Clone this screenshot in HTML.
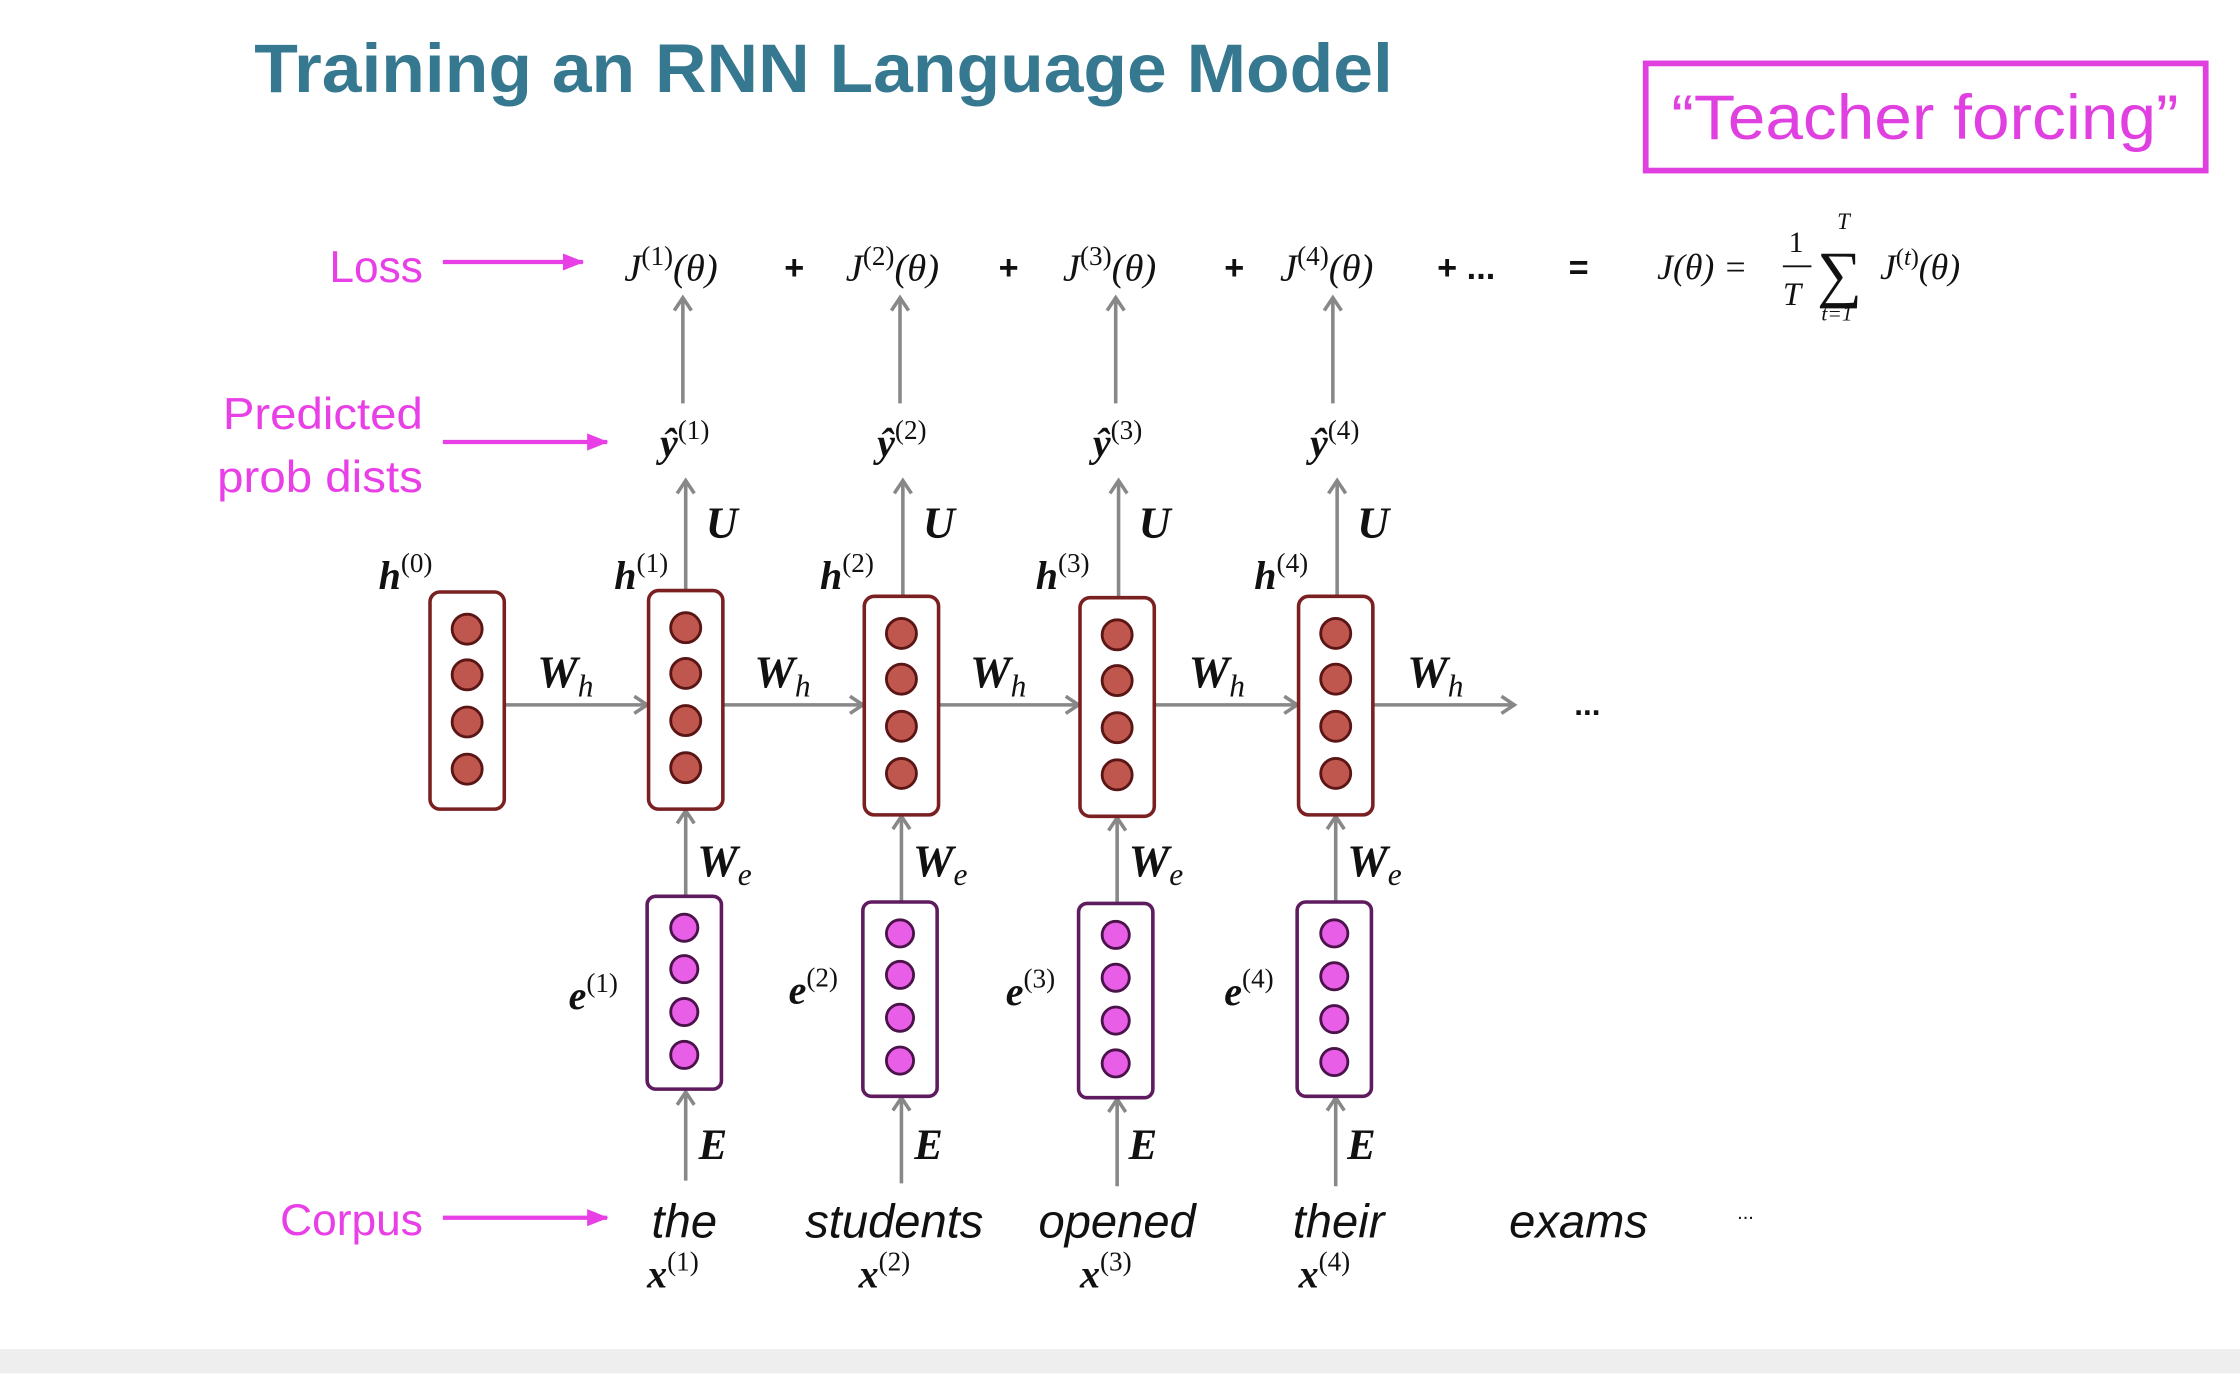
<!DOCTYPE html>
<html><head><meta charset="utf-8"><style>
html,body{margin:0;padding:0;background:#fff;}
svg{display:block;}
.m{font-family:"Liberation Serif",serif;font-style:italic;fill:#111;}
.mb{font-family:"Liberation Serif",serif;font-style:italic;font-weight:bold;fill:#111;}
.sup{font-family:"Liberation Serif",serif;font-style:normal;font-weight:normal;fill:#111;}
.pk{font-family:"Liberation Sans",sans-serif;fill:#e83fe6;font-size:31px;}
.w{font-family:"Liberation Sans",sans-serif;font-style:italic;font-size:33px;fill:#111;}
</style></head><body>
<svg width="2240" height="1374" viewBox="0 0 1568 961" xmlns="http://www.w3.org/2000/svg">
<defs>
<marker id="ag" markerWidth="14" markerHeight="14" refX="11" refY="7" orient="auto" markerUnits="userSpaceOnUse"><path d="M2,1 L11,7 L2,13" fill="none" stroke="#888" stroke-width="2.5"/></marker>
<marker id="ap" markerWidth="16" markerHeight="14" refX="14" refY="7" orient="auto" markerUnits="userSpaceOnUse"><path d="M0,1 L15,7 L0,13 Z" fill="#e83fe6"/></marker>
</defs>
<rect x="0" y="944" width="1568" height="17" fill="#eeeeee"/>
<text x="178" y="64" textLength="797" lengthAdjust="spacingAndGlyphs" font-family="Liberation Sans,sans-serif" font-weight="bold" font-size="48" fill="#357890">Training an RNN Language Model</text>
<rect x="1152" y="44" width="392" height="75" fill="none" stroke="#e040e0" stroke-width="4"/>
<text x="1170" y="97" textLength="355" lengthAdjust="spacingAndGlyphs" font-family="Liberation Sans,sans-serif" font-size="44" fill="#e040e0">“Teacher forcing”</text>

<text class="pk" x="296" y="197" text-anchor="end">Loss</text>
<text class="pk" x="156" y="300" textLength="140" lengthAdjust="spacingAndGlyphs">Predicted</text>
<text class="pk" x="152" y="344" textLength="144" lengthAdjust="spacingAndGlyphs">prob dists</text>
<text class="pk" x="296" y="864" text-anchor="end">Corpus</text>
<g stroke="#e83fe6" stroke-width="3" marker-end="url(#ap)">
<line x1="310" y1="183" x2="408" y2="183"/>
<line x1="310" y1="309" x2="425" y2="309"/>
<line x1="310" y1="852" x2="425" y2="852"/>
</g>

<g font-size="27">
<text class="m" x="437" y="196">J<tspan class="sup" font-size="19" dy="-11">(1)</tspan><tspan dy="11">(θ)</tspan></text>
<text class="m" x="592" y="196">J<tspan class="sup" font-size="19" dy="-11">(2)</tspan><tspan dy="11">(θ)</tspan></text>
<text class="m" x="744" y="196">J<tspan class="sup" font-size="19" dy="-11">(3)</tspan><tspan dy="11">(θ)</tspan></text>
<text class="m" x="896" y="196">J<tspan class="sup" font-size="19" dy="-11">(4)</tspan><tspan dy="11">(θ)</tspan></text>
</g>
<g font-family="Liberation Sans,sans-serif" font-size="24" font-weight="bold" fill="#111">
<text x="549" y="195">+</text><text x="699" y="195">+</text><text x="857" y="195">+</text>
<text x="1006" y="195">+ ...</text><text x="1098" y="195">=</text>
</g>
<text class="m" x="1160" y="195" font-size="25">J(θ) =</text>
<text class="sup" x="1252" y="176" font-size="21">1</text>
<line x1="1248" y1="186" x2="1268" y2="186" stroke="#111" stroke-width="1.3"/>
<text class="m" x="1248" y="213" font-size="23">T</text>
<text class="sup" x="1272" y="206" font-size="44">∑</text>
<text class="m" x="1286" y="160" font-size="16">T</text>
<text class="m" x="1275" y="224" font-size="15">t=1</text>
<text class="m" x="1316" y="195" font-size="25">J<tspan class="sup" font-size="17" dy="-10">(</tspan><tspan font-size="17" font-style="italic">t</tspan><tspan class="sup" font-size="17">)</tspan><tspan dy="10">(θ)</tspan></text>

<g stroke="#888" stroke-width="2.5" fill="none" marker-end="url(#ag)">
<line x1="478" y1="282" x2="478" y2="208"/><line x1="630" y1="282" x2="630" y2="208"/>
<line x1="781" y1="282" x2="781" y2="208"/><line x1="933" y1="282" x2="933" y2="208"/>
<line x1="480" y1="412" x2="480" y2="336"/><line x1="632" y1="416" x2="632" y2="336"/>
<line x1="783" y1="417" x2="783" y2="336"/><line x1="936" y1="416" x2="936" y2="336"/>
<line x1="353" y1="493" x2="453" y2="493"/><line x1="506" y1="493" x2="604" y2="493"/>
<line x1="657" y1="493" x2="755" y2="493"/><line x1="808" y1="493" x2="908" y2="493"/>
<line x1="961" y1="493" x2="1060" y2="493"/>
<line x1="480" y1="626" x2="480" y2="567"/><line x1="631" y1="630" x2="631" y2="571"/>
<line x1="782" y1="631" x2="782" y2="572"/><line x1="935" y1="630" x2="935" y2="571"/>
<line x1="480" y1="826" x2="480" y2="764"/><line x1="631" y1="828" x2="631" y2="768"/>
<line x1="782" y1="830" x2="782" y2="769"/><line x1="935" y1="830" x2="935" y2="768"/>
</g>

<g font-size="28">
<text class="mb" x="462" y="319">ŷ<tspan class="sup" font-size="19" dy="-12">(1)</tspan></text>
<text class="mb" x="614" y="319">ŷ<tspan class="sup" font-size="19" dy="-12">(2)</tspan></text>
<text class="mb" x="765" y="319">ŷ<tspan class="sup" font-size="19" dy="-12">(3)</tspan></text>
<text class="mb" x="917" y="319">ŷ<tspan class="sup" font-size="19" dy="-12">(4)</tspan></text>
<text class="mb" x="494" y="376" font-size="31">U</text><text class="mb" x="646" y="376" font-size="31">U</text>
<text class="mb" x="797" y="376" font-size="31">U</text><text class="mb" x="950" y="376" font-size="31">U</text>
<text class="mb" x="265" y="412">h<tspan class="sup" font-size="19" dy="-12">(0)</tspan></text>
<text class="mb" x="430" y="412">h<tspan class="sup" font-size="19" dy="-12">(1)</tspan></text>
<text class="mb" x="574" y="412">h<tspan class="sup" font-size="19" dy="-12">(2)</tspan></text>
<text class="mb" x="725" y="412">h<tspan class="sup" font-size="19" dy="-12">(3)</tspan></text>
<text class="mb" x="878" y="412">h<tspan class="sup" font-size="19" dy="-12">(4)</tspan></text>
</g>
<g font-size="32">
<text class="mb" x="376" y="481">W<tspan class="m" font-weight="normal" font-size="22" dy="6">h</tspan></text>
<text class="mb" x="528" y="481">W<tspan class="m" font-weight="normal" font-size="22" dy="6">h</tspan></text>
<text class="mb" x="679" y="481">W<tspan class="m" font-weight="normal" font-size="22" dy="6">h</tspan></text>
<text class="mb" x="832" y="481">W<tspan class="m" font-weight="normal" font-size="22" dy="6">h</tspan></text>
<text class="mb" x="985" y="481">W<tspan class="m" font-weight="normal" font-size="22" dy="6">h</tspan></text>
<text class="mb" x="488" y="613">W<tspan class="m" font-weight="normal" font-size="22" dy="6">e</tspan></text>
<text class="mb" x="639" y="613">W<tspan class="m" font-weight="normal" font-size="22" dy="6">e</tspan></text>
<text class="mb" x="790" y="613">W<tspan class="m" font-weight="normal" font-size="22" dy="6">e</tspan></text>
<text class="mb" x="943" y="613">W<tspan class="m" font-weight="normal" font-size="22" dy="6">e</tspan></text>
<text class="mb" x="489" y="811" font-size="30">E</text><text class="mb" x="640" y="811" font-size="30">E</text>
<text class="mb" x="790" y="811" font-size="30">E</text><text class="mb" x="943" y="811" font-size="30">E</text>
</g>
<text x="1102" y="500" font-family="Liberation Sans,sans-serif" font-size="22" font-weight="bold" fill="#111">...</text>

<g stroke="#7b2020" stroke-width="2.5" fill="#fff">
<rect x="301" y="414" width="52" height="152" rx="7"/>
<rect x="454" y="413" width="52" height="153" rx="7"/>
<rect x="605" y="417" width="52" height="153" rx="7"/>
<rect x="756" y="418" width="52" height="153" rx="7"/>
<rect x="909" y="417" width="52" height="153" rx="7"/>
</g>
<g fill="#c0574f" stroke="#5a1515" stroke-width="2">
<circle cx="327" cy="440" r="10.5"/><circle cx="327" cy="472" r="10.5"/><circle cx="327" cy="505" r="10.5"/><circle cx="327" cy="538" r="10.5"/>
<circle cx="480" cy="439" r="10.5"/><circle cx="480" cy="471" r="10.5"/><circle cx="480" cy="504" r="10.5"/><circle cx="480" cy="537" r="10.5"/>
<circle cx="631" cy="443" r="10.5"/><circle cx="631" cy="475" r="10.5"/><circle cx="631" cy="508" r="10.5"/><circle cx="631" cy="541" r="10.5"/>
<circle cx="782" cy="444" r="10.5"/><circle cx="782" cy="476" r="10.5"/><circle cx="782" cy="509" r="10.5"/><circle cx="782" cy="542" r="10.5"/>
<circle cx="935" cy="443" r="10.5"/><circle cx="935" cy="475" r="10.5"/><circle cx="935" cy="508" r="10.5"/><circle cx="935" cy="541" r="10.5"/>
</g>

<g stroke="#5e1b5e" stroke-width="2.5" fill="#fff">
<rect x="453" y="627" width="52" height="135" rx="6"/>
<rect x="604" y="631" width="52" height="136" rx="6"/>
<rect x="755" y="632" width="52" height="136" rx="6"/>
<rect x="908" y="631" width="52" height="136" rx="6"/>
</g>
<g fill="#e95ee6" stroke="#4a144a" stroke-width="2">
<circle cx="479" cy="649" r="9.5"/><circle cx="479" cy="678" r="9.5"/><circle cx="479" cy="708" r="9.5"/><circle cx="479" cy="738" r="9.5"/>
<circle cx="630" cy="653" r="9.5"/><circle cx="630" cy="682" r="9.5"/><circle cx="630" cy="712" r="9.5"/><circle cx="630" cy="742" r="9.5"/>
<circle cx="781" cy="654" r="9.5"/><circle cx="781" cy="684" r="9.5"/><circle cx="781" cy="714" r="9.5"/><circle cx="781" cy="744" r="9.5"/>
<circle cx="934" cy="653" r="9.5"/><circle cx="934" cy="683" r="9.5"/><circle cx="934" cy="713" r="9.5"/><circle cx="934" cy="743" r="9.5"/>
</g>
<g font-size="28">
<text class="mb" x="398" y="706">e<tspan class="sup" font-size="19" dy="-12">(1)</tspan></text>
<text class="mb" x="552" y="702">e<tspan class="sup" font-size="19" dy="-12">(2)</tspan></text>
<text class="mb" x="704" y="703">e<tspan class="sup" font-size="19" dy="-12">(3)</tspan></text>
<text class="mb" x="857" y="703">e<tspan class="sup" font-size="19" dy="-12">(4)</tspan></text>
</g>

<text class="w" x="479" y="866" text-anchor="middle">the</text>
<text class="w" x="626" y="866" text-anchor="middle">students</text>
<text class="w" x="782" y="866" text-anchor="middle">opened</text>
<text class="w" x="937" y="866" text-anchor="middle">their</text>
<text class="w" x="1105" y="866" text-anchor="middle">exams</text>
<text x="1216" y="853" font-family="Liberation Sans,sans-serif" font-size="14" fill="#111">...</text>
<g font-size="28">
<text class="mb" x="453" y="901">x<tspan class="sup" font-size="19" dy="-12">(1)</tspan></text>
<text class="mb" x="601" y="901">x<tspan class="sup" font-size="19" dy="-12">(2)</tspan></text>
<text class="mb" x="756" y="901">x<tspan class="sup" font-size="19" dy="-12">(3)</tspan></text>
<text class="mb" x="909" y="901">x<tspan class="sup" font-size="19" dy="-12">(4)</tspan></text>
</g>
</svg>
</body></html>
